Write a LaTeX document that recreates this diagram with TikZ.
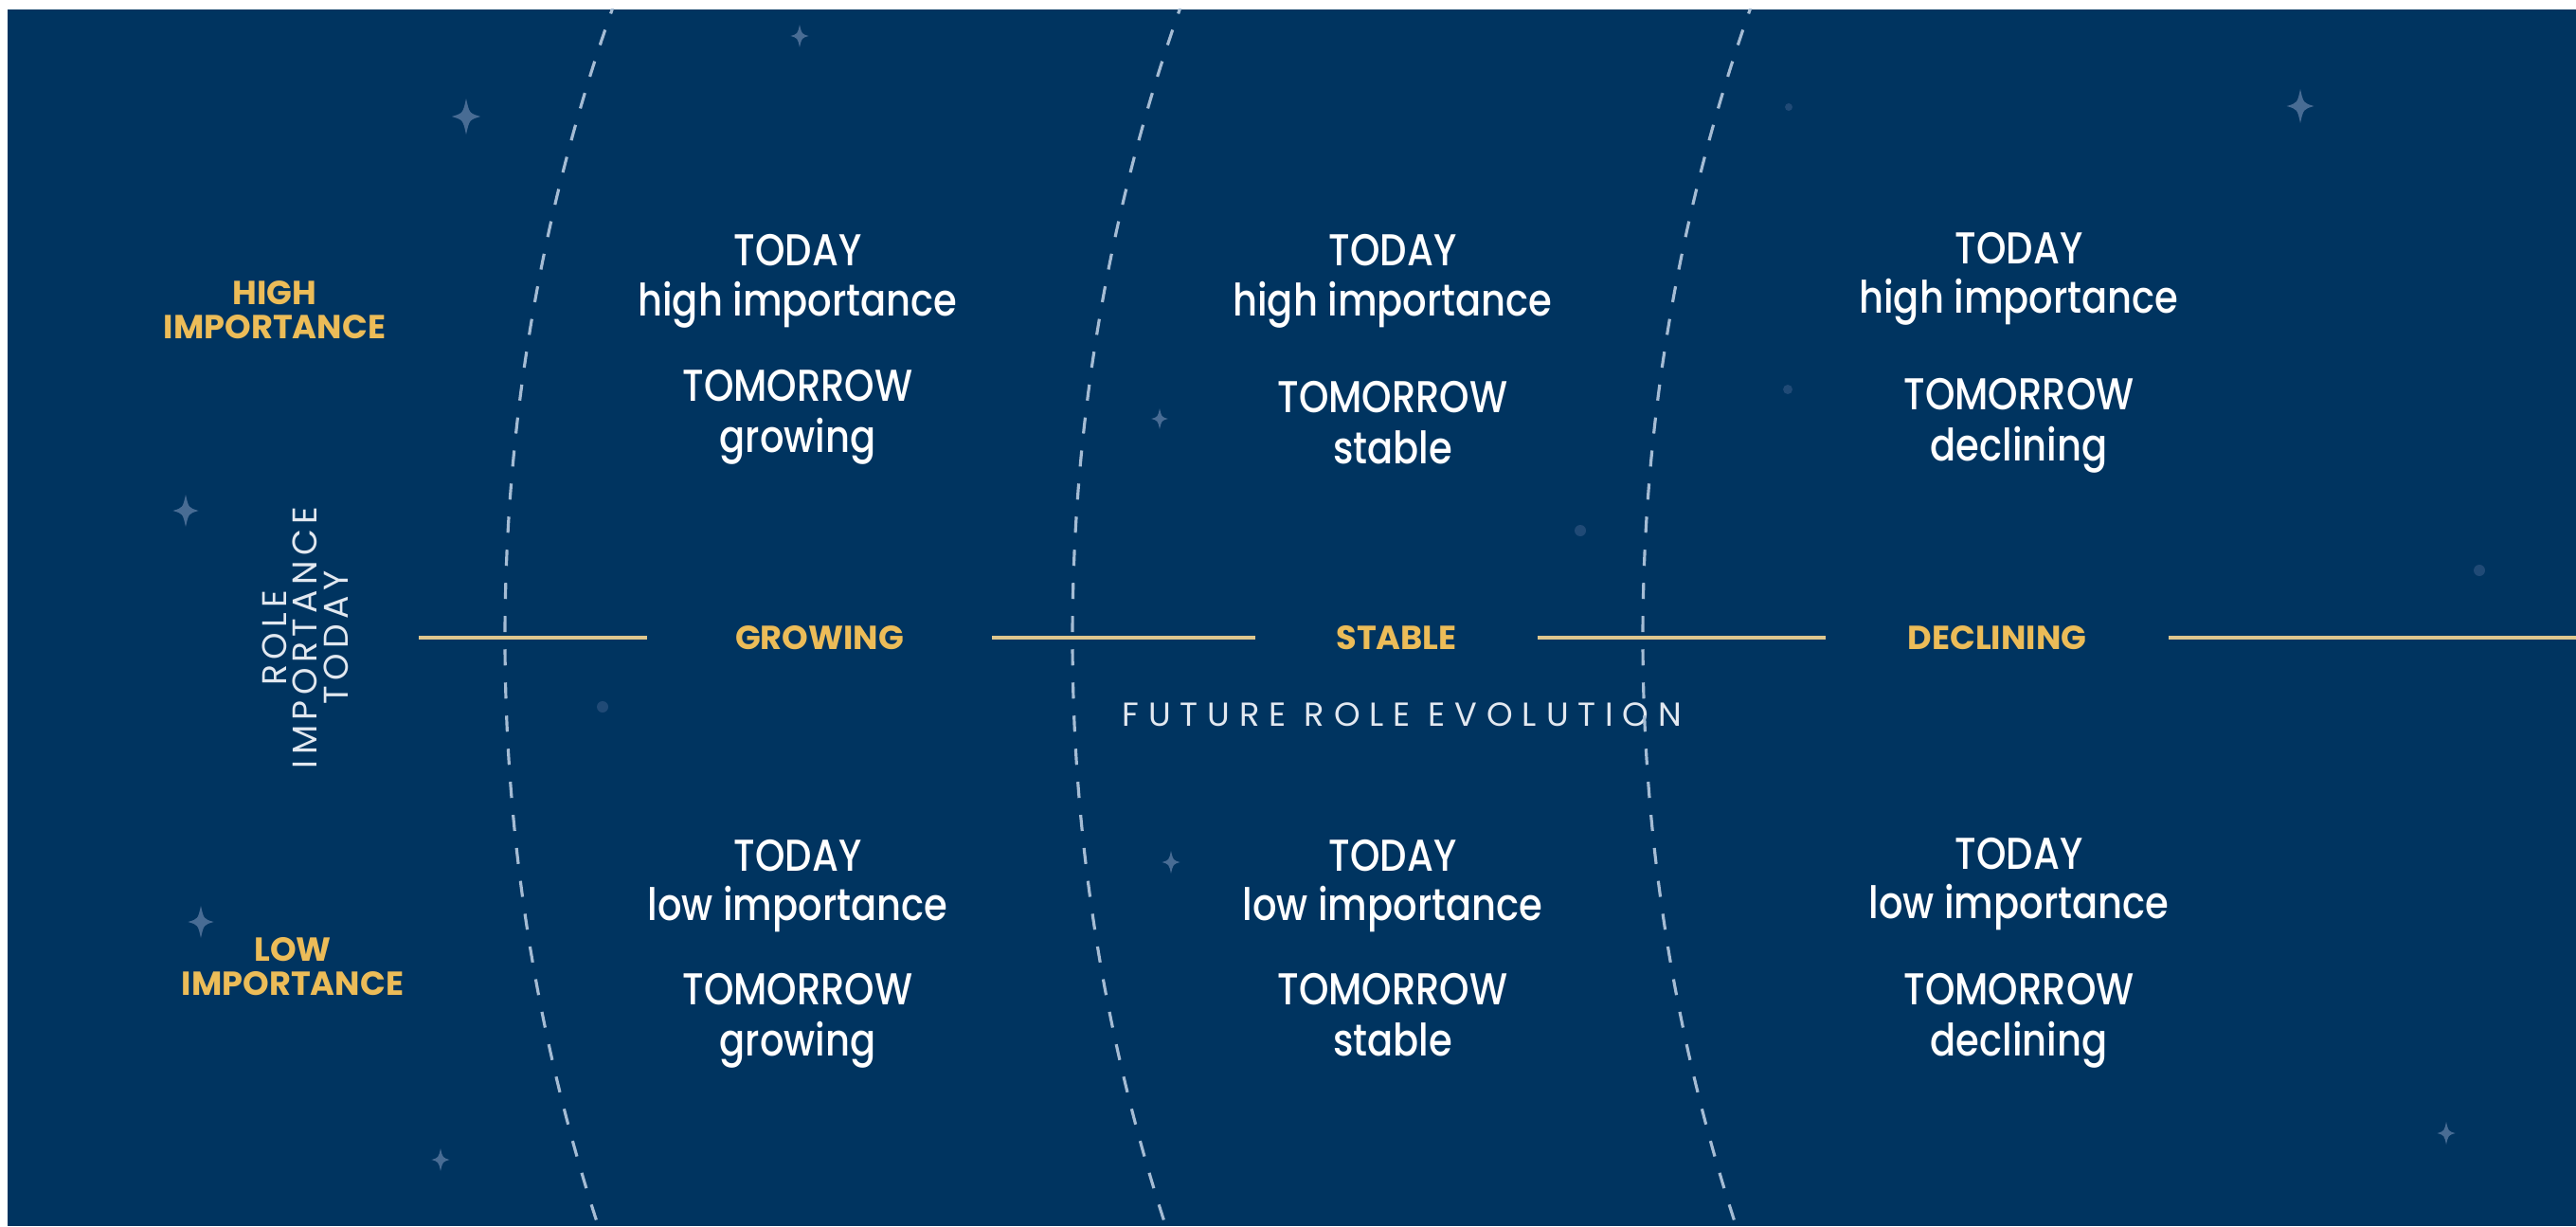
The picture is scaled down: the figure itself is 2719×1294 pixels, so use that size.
\documentclass[tikz,border=0pt]{standalone}
\usepackage{fontspec}
\setmainfont{Poppins}
\newfontfamily\cellfont[FakeStretch=0.85]{Poppins Medium}
\newfontfamily\axisfont[LetterSpace=15]{Poppins}
\newfontfamily\evofont[LetterSpace=28]{Poppins}
\definecolor{navy}{RGB}{0,52,96}
\definecolor{gold}{RGB}{236,188,88}
\definecolor{goldline}{RGB}{222,198,142}
\definecolor{arcgrey}{RGB}{165,188,212}
\definecolor{starblue}{RGB}{72,108,148}
\definecolor{dotblue}{RGB}{32,74,118}
\definecolor{axiswhite}{RGB}{226,232,240}
\tikzset{
  sparkle/.pic={
    \fill[starblue] (0,-1) .. controls (0.18,-0.18) .. (0.8,0)
      .. controls (0.18,0.18) .. (0,1) .. controls (-0.18,0.18) .. (-0.8,0)
      .. controls (-0.18,-0.18) .. (0,-1) -- cycle;
  }
}
\begin{document}
\begin{tikzpicture}[x=0.01cm, y=-0.01cm,
    celltext/.style={anchor=base, inner sep=0pt, text=white,
      font=\cellfont\fontsize{13.4}{14}\selectfont},
    goldlabel/.style={text=gold, inner sep=0pt, align=center,
      font=\bfseries\fontsize{10}{10.25}\selectfont},
    axislabel/.style={text=axiswhite, inner sep=0pt, align=center},
    goldrule/.style={draw=goldline, line width=1.1pt},
    arcline/.style={draw=arcgrey, line width=0.9pt, dash pattern=on 0.17cm off 0.18cm}]
    \useasboundingbox (0,0) rectangle (2719,1294);
    \fill[white] (0,0) rectangle (2719,1294);
    \fill[navy] (8,10) rectangle (2719,1294);

    % stars and dots
    \foreach \sx/\sy/\sr in {492/123/19, 844/38/12, 196/539/17, 1224/442/11,
        2428/112/18, 212/973/17, 1236/910/12, 465/1224/12, 2582/1196/12}
      \pic[scale=\sr] at (\sx,\sy) {sparkle};
    \foreach \dx/\dy/\dr in {1888/113/4, 1887/411/5, 1668/560/6, 2617/602/6, 636/746/6}
      \fill[dotblue] (\dx,\dy) circle[radius=\dr];

    % axis
    \coordinate (lstart) at (442,673);
    \coordinate (rend) at (2719,673);
    \node[goldlabel, minimum width=3.62cm] (grow) at (865,673) {GROWING};
    \node[goldlabel, minimum width=2.96cm] (stab) at (1474,673) {STABLE};
    \node[goldlabel, minimum width=3.61cm] (decl) at (2108,673) {DECLINING};
    \draw[goldrule] (lstart) -- (grow);
    \draw[goldrule] (grow) -- (stab);
    \draw[goldrule] (stab) -- (decl);
    \draw[goldrule] (decl) -- (rend);

    \node[axislabel, font=\evofont\fontsize{10}{10.5}\selectfont] (evo) at (1480,754) {FUTURE ROLE EVOLUTION};
    \node[axislabel, rotate=90, font=\axisfont\fontsize{10.3}{9.2}\selectfont] (imp) at (322,673) {ROLE\\IMPORTANCE\\TODAY};
    \node[goldlabel] (high) at (290,327) {HIGH\\IMPORTANCE};
    \node[goldlabel] (low) at (309,1020) {LOW\\IMPORTANCE};

    % dashed arcs
    \begin{scope}
      \clip (8,10) rectangle (2719,1294);
      \foreach \cx in {2526,3125,3727}
        \draw[arcline] (\cx,673.6) circle[radius=1993];
    \end{scope}

    % cells
    \node[celltext] (t11) at (842,281) {TODAY};
    \node[celltext] (h11) at (842,333) {high importance};
    \node[celltext] (m11) at (842,423) {TOMORROW};
    \node[celltext] (g11) at (842,477) {growing};
    \node[celltext] (t12) at (1470,281) {TODAY};
    \node[celltext] (h12) at (1470,333) {high importance};
    \node[celltext] (m12) at (1470,435) {TOMORROW};
    \node[celltext] (g12) at (1470,489) {stable};
    \node[celltext] (t13) at (2131,278) {TODAY};
    \node[celltext] (h13) at (2131,330) {high importance};
    \node[celltext] (m13) at (2131,432) {TOMORROW};
    \node[celltext] (g13) at (2131,486) {declining};

    \node[celltext] (t21) at (842,919) {TODAY};
    \node[celltext] (h21) at (842,971) {low importance};
    \node[celltext] (m21) at (842,1060) {TOMORROW};
    \node[celltext] (g21) at (842,1114) {growing};
    \node[celltext] (t22) at (1470,919) {TODAY};
    \node[celltext] (h22) at (1470,971) {low importance};
    \node[celltext] (m22) at (1470,1060) {TOMORROW};
    \node[celltext] (g22) at (1470,1114) {stable};
    \node[celltext] (t23) at (2131,917) {TODAY};
    \node[celltext] (h23) at (2131,969) {low importance};
    \node[celltext] (m23) at (2131,1060) {TOMORROW};
    \node[celltext] (g23) at (2131,1114) {declining};
\end{tikzpicture}
\end{document}
